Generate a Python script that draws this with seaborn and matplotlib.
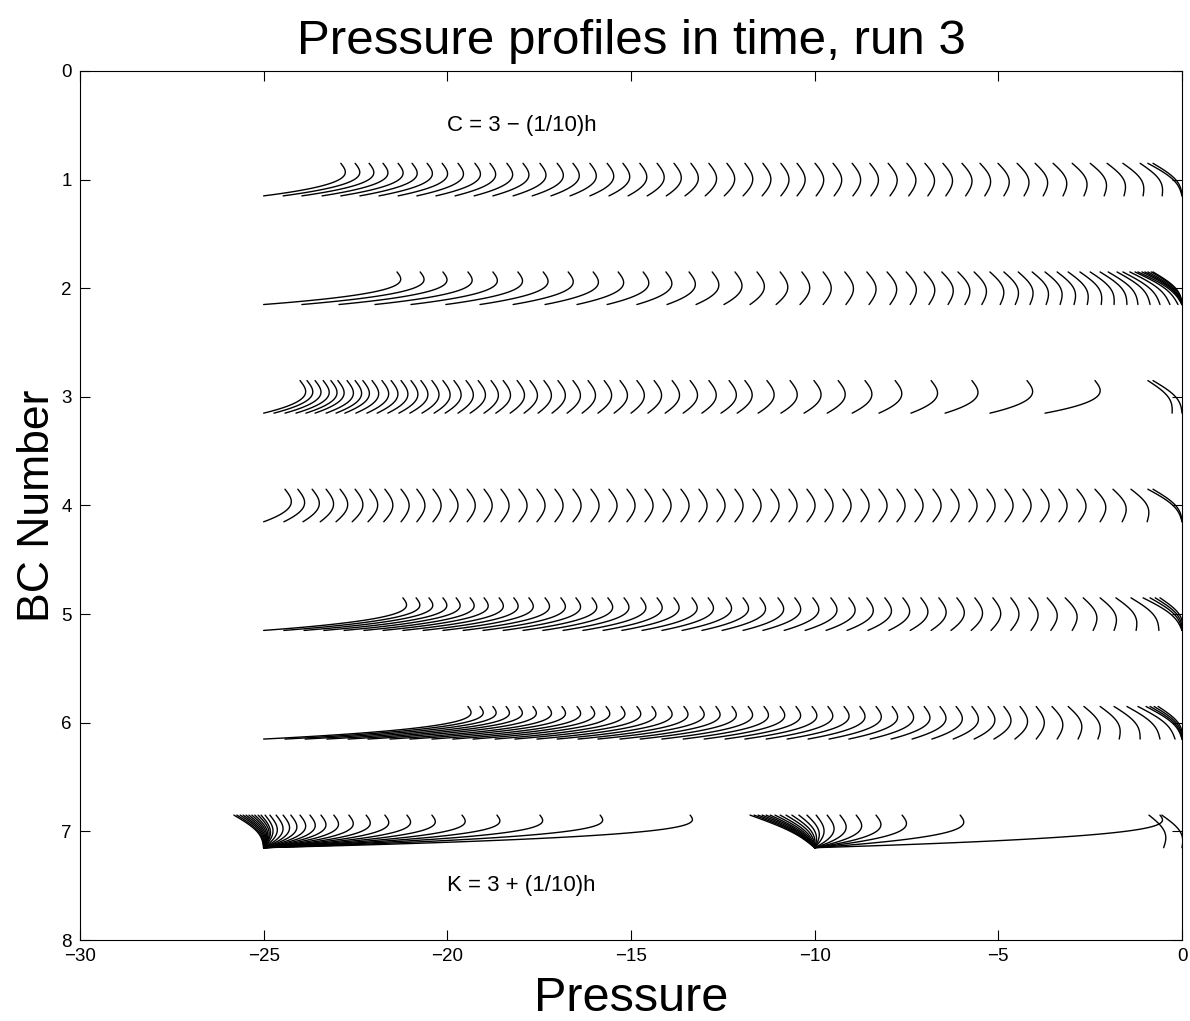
import numpy as np
import pandas as pd
import seaborn as sns
import matplotlib.pyplot as plt

# pressure at the top (tip) and at the bottom of each profile, one list pair per BC
row1_top = [-22.90, -22.51, -22.13, -21.75, -21.34, -20.96, -20.55, -20.14, -19.71, -19.25,
            -18.84, -18.38, -17.94, -17.48, -17.01, -16.58, -16.12, -15.65, -15.22, -14.76,
            -14.29, -13.83, -13.37, -12.88, -12.39, -11.90, -11.41, -10.92, -10.48, -9.99,
            -9.50, -8.98, -8.50, -8.00, -7.49, -7.00, -6.51, -5.99, -5.50, -5.01,
            -4.49, -4.00, -3.51, -2.99, -2.50, -2.04, -1.61, -1.14, -0.93, -0.79]
row1_bottom = [-25.0, -24.47, -23.96, -23.41, -22.90, -22.38, -21.86, -21.34, -20.83, -20.31,
               -19.79, -19.27, -18.76, -18.21, -17.69, -17.18, -16.66, -16.12, -15.60, -15.08,
               -14.56, -14.04, -13.53, -12.98, -12.46, -11.95, -11.43, -10.92, -10.48, -9.96,
               -9.47, -8.96, -8.47, -7.95, -7.44, -6.92, -6.43, -5.89, -5.37, -4.85,
               -4.30, -3.78, -3.24, -2.67, -2.12, -1.58, -1.06, -0.54, 0.0, 0.0]

row2_top = [-21.37, -20.74, -20.12, -19.44, -18.76, -18.08, -17.39, -16.71, -16.03, -15.35,
            -14.67, -14.05, -13.42, -12.79, -12.17, -11.57, -10.94, -10.35, -9.77, -9.18,
            -8.58, -8.03, -7.51, -7.02, -6.54, -6.10, -5.66, -5.23, -4.85, -4.46,
            -4.08, -3.73, -3.40, -3.10, -2.78, -2.50, -2.23, -2.01, -1.77, -1.61,
            -1.42, -1.28, -1.20, -1.09, -1.01, -0.93, -0.84, -0.79]
row2_bottom = [-25.0, -23.96, -22.95, -21.97, -20.99, -20.04, -19.11, -18.21, -17.34, -16.47,
               -15.65, -14.84, -14.02, -13.23, -12.47, -11.76, -11.05, -10.40, -9.77, -9.15,
               -8.52, -7.95, -7.40, -6.89, -6.37, -5.91, -5.45, -4.95, -4.54, -4.14,
               -3.70, -3.32, -2.94, -2.58, -2.20, -1.85, -1.50, -1.20, -0.87, -0.60,
               -0.33, -0.11, 0.0, 0.0, 0.0, 0.0, 0.0, 0.0]

row3_top = [-24.01, -23.82, -23.60, -23.38, -23.17, -22.98, -22.73, -22.51, -22.30, -22.05,
            -21.78, -21.53, -21.26, -20.99, -20.72, -20.42, -20.12, -19.82, -19.49, -19.16,
            -18.81, -18.48, -18.10, -17.75, -17.37, -16.99, -16.58, -16.17, -15.73, -15.30,
            -14.84, -14.37, -13.88, -13.39, -12.88, -12.33, -11.90, -11.30, -10.67, -10.02,
            -9.36, -8.63, -7.81, -6.83, -5.72, -4.22, -2.37, -0.93, -0.79]
row3_bottom = [-25.0, -24.72, -24.42, -24.12, -23.85, -23.60, -23.30, -23.03, -22.79, -22.49,
               -22.19, -21.91, -21.62, -21.32, -21.02, -20.69, -20.36, -20.06, -19.71, -19.38,
               -19.00, -18.68, -18.29, -17.91, -17.53, -17.15, -16.74, -16.33, -15.90, -15.46,
               -15.00, -14.54, -14.07, -13.58, -13.07, -12.55, -12.11, -11.54, -10.92, -10.29,
               -9.66, -8.98, -8.25, -7.38, -6.45, -5.23, -3.73, -0.27, 0.0]

row4_top = [-24.42, -24.07, -23.68, -23.30, -22.92, -22.51, -22.11, -21.70, -21.26, -20.83,
            -20.39, -19.93, -19.46, -19.00, -18.54, -18.05, -17.56, -17.07, -16.58, -16.09,
            -15.60, -15.11, -14.62, -14.13, -13.64, -13.15, -12.66, -12.17, -11.68, -11.19,
            -10.70, -10.21, -9.72, -9.23, -8.74, -8.25, -7.76, -7.27, -6.78, -6.29,
            -5.80, -5.31, -4.82, -4.33, -3.84, -3.35, -2.86, -2.37, -1.88, -1.39,
            -0.93, -0.79]
row4_bottom = [-25.0, -24.45, -23.93, -23.46, -23.03, -22.59, -22.16, -21.73, -21.26, -20.83,
               -20.39, -19.93, -19.46, -19.00, -18.54, -18.05, -17.56, -17.07, -16.58, -16.09,
               -15.60, -15.11, -14.62, -14.13, -13.64, -13.15, -12.66, -12.17, -11.68, -11.19,
               -10.70, -10.21, -9.72, -9.23, -8.74, -8.25, -7.76, -7.27, -6.78, -6.29,
               -5.80, -5.31, -4.82, -4.33, -3.84, -3.35, -2.81, -2.23, -1.63, -0.95,
               0.0, 0.0]

row5_top = [-21.21, -20.85, -20.50, -20.12, -19.76, -19.38, -19.00, -18.59, -18.19, -17.78,
            -17.34, -16.91, -16.50, -16.06, -15.63, -15.19, -14.73, -14.29, -13.83, -13.34,
            -12.90, -12.41, -11.95, -11.49, -11.00, -10.54, -10.05, -9.56, -9.07, -8.58,
            -8.09, -7.60, -7.11, -6.62, -6.13, -5.64, -5.15, -4.66, -4.17, -3.67,
            -3.18, -2.69, -2.23, -1.80, -1.39, -1.06, -0.87, -0.73, -0.60]
row5_bottom = [-25.0, -24.45, -23.90, -23.36, -22.81, -22.27, -21.75, -21.21, -20.66, -20.12,
               -19.57, -19.03, -18.48, -17.94, -17.40, -16.85, -16.31, -15.76, -15.25, -14.70,
               -14.16, -13.61, -13.07, -12.52, -11.95, -11.41, -10.83, -10.26, -9.69, -9.12,
               -8.55, -7.98, -7.40, -6.83, -6.29, -5.74, -5.20, -4.66, -4.11, -3.57,
               -2.99, -2.42, -1.85, -1.25, -0.63, 0.0, 0.0, 0.0, 0.0]

row6_top = [-19.44, -19.11, -18.76, -18.40, -18.05, -17.67, -17.26, -16.88, -16.47, -16.09,
            -15.68, -15.27, -14.84, -14.43, -13.99, -13.56, -13.12, -12.69, -12.25, -11.81,
            -11.38, -10.94, -10.51, -10.07, -9.64, -9.20, -8.77, -8.33, -7.89, -7.46,
            -7.02, -6.59, -6.15, -5.72, -5.28, -4.85, -4.41, -3.97, -3.54, -3.10,
            -2.67, -2.23, -1.85, -1.50, -1.20, -0.98, -0.87, -0.76, -0.65]
row6_bottom = [-25.0, -24.42, -23.87, -23.28, -22.70, -22.16, -21.56, -21.02, -20.42, -19.85,
               -19.30, -18.70, -18.16, -17.56, -17.01, -16.44, -15.90, -15.30, -14.75, -14.16,
               -13.58, -13.01, -12.44, -11.90, -11.32, -10.75, -10.18, -9.61, -9.07, -8.49,
               -7.92, -7.35, -6.81, -6.23, -5.66, -5.12, -4.55, -3.97, -3.40, -2.83,
               -2.29, -1.71, -1.14, -0.60, -0.19, 0.0, 0.0, 0.0, 0.0]

row7_top = [-25.81, -25.73, -25.64, -25.56, -25.48, -25.40, -25.32, -25.24, -25.15, -25.07,
            -24.96, -24.83, -24.66, -24.47, -24.26, -24.01, -23.74, -23.44, -23.09, -22.68,
            -22.21, -21.70, -21.10, -20.42, -19.60, -18.65, -17.48, -15.84, -13.39,
            -11.76, -11.65, -11.54, -11.43, -11.32, -11.21, -11.08, -10.94, -10.78, -10.62,
            -10.43, -10.21, -9.96, -9.66, -9.31, -8.87, -8.33, -7.62, -6.04, -0.60,
            -0.90, -0.55]
row7_bottom = [-25.0] * 29 + [-10.0] * 20 + [-0.50, 0.0]

profiles = {1: (row1_top, row1_bottom), 2: (row2_top, row2_bottom),
            3: (row3_top, row3_bottom), 4: (row4_top, row4_bottom),
            5: (row5_top, row5_bottom), 6: (row6_top, row6_bottom),
            7: (row7_top, row7_bottom)}

half_height = 0.15   # each profile spans BC +/- 0.15
bulge = 0.22         # ")" bow of the profile


def profile_points(bc, p_top, p_bottom, n=40):
    s = np.linspace(0, 1, n)  # 0 = bottom, 1 = top
    if p_top >= p_bottom:
        frac = 1 - (1 - s) ** 3
    else:
        frac = s
    x = p_bottom + (p_top - p_bottom) * frac + bulge * np.sin(np.pi * s)
    y = bc + half_height - 2 * half_height * s
    return x, y


frames = []
curve_id = 0
for bc, (tops, bottoms) in profiles.items():
    for p_top, p_bottom in zip(tops, bottoms):
        x, y = profile_points(bc, p_top, p_bottom)
        frames.append(pd.DataFrame({'pressure': x, 'bc': y, 'curve': curve_id}))
        curve_id += 1
df = pd.concat(frames, ignore_index=True)

sns.set_style('ticks')
plt.rcParams['font.family'] = ['Liberation Sans', 'DejaVu Sans']
plt.rcParams['text.color'] = 'black'
plt.rcParams['axes.labelcolor'] = 'black'

fig = plt.figure(figsize=(11.9, 10.21), dpi=100)
ax = fig.add_axes([0.0672, 0.0793, 0.9261, 0.8512])

sns.lineplot(data=df, x='pressure', y='bc', units='curve', estimator=None,
             sort=False, color='black', linewidth=1.0, legend=False, ax=ax)

ax.text(-20, 0.5, 'C = 3 \u2212 (1/10)h', fontsize=16, color='black', ha='left', va='center')
ax.text(-20, 7.5, 'K = 3 + (1/10)h', fontsize=16, color='black', ha='left', va='center')

ax.set_xlim(-30, 0)
ax.set_ylim(8, 0)
ax.set_xticks(range(-30, 1, 5))
ax.set_yticks(range(0, 9))
ax.tick_params(direction='in', top=True, right=True, length=7, width=0.8,
               labelsize=13.5, colors='black', pad=6)
for sp in ax.spines.values():
    sp.set_color('black')
    sp.set_linewidth(0.8)

ax.set_title('Pressure profiles in time, run 3', fontsize=35.5, pad=12, color='black')
ax.set_xlabel('Pressure', fontsize=35, labelpad=8)
ax.set_ylabel('BC Number', fontsize=32, labelpad=2)

fig.savefig('out.png', dpi=100)
